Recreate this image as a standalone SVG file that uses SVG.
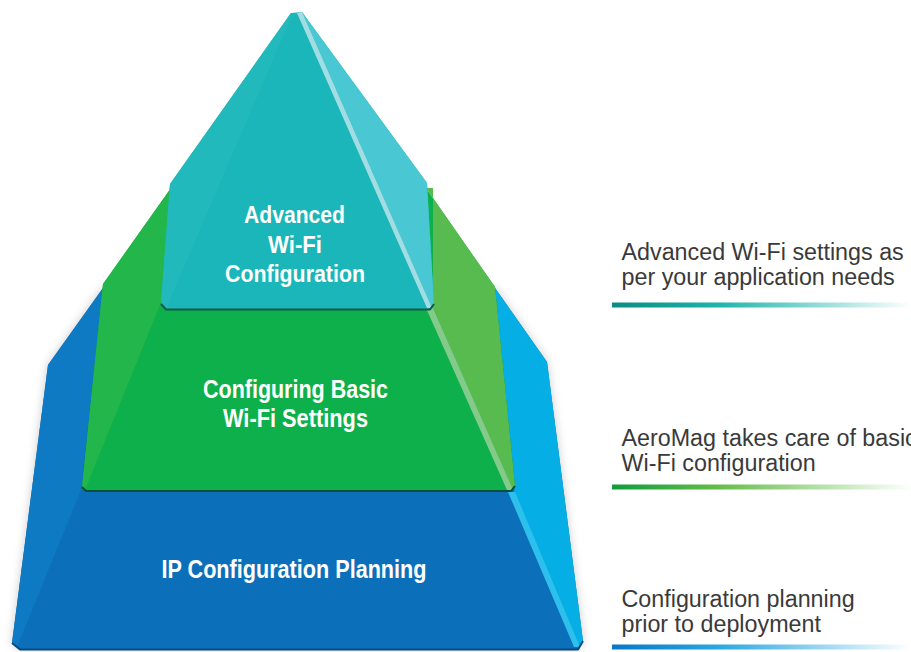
<svg xmlns="http://www.w3.org/2000/svg" width="911" height="652" viewBox="0 0 911 652">
<defs>
<filter id="soft" x="-10%" y="-10%" width="120%" height="120%">
<feGaussianBlur stdDeviation="5"/>
</filter>
<linearGradient id="gTeal" x1="0" y1="0" x2="1" y2="0">
<stop offset="0" stop-color="#0a8c83"/>
<stop offset="0.35" stop-color="#1bb3aa"/>
<stop offset="1" stop-color="#ffffff"/>
</linearGradient>
<linearGradient id="gGreen" x1="0" y1="0" x2="1" y2="0">
<stop offset="0" stop-color="#109c3a"/>
<stop offset="0.35" stop-color="#62bd47"/>
<stop offset="1" stop-color="#ffffff"/>
</linearGradient>
<linearGradient id="gBlue" x1="0" y1="0" x2="1" y2="0">
<stop offset="0" stop-color="#0877c8"/>
<stop offset="0.35" stop-color="#2aa5e2"/>
<stop offset="1" stop-color="#ffffff"/>
</linearGradient>
</defs>
<style>
.lbl{font-family:"Liberation Sans",Arial,sans-serif;font-weight:bold;fill:#ffffff;text-anchor:middle}
.desc{font-family:"Liberation Sans",Arial,sans-serif;font-size:23.3px;fill:#3a3a3a}
.edge{fill:none;stroke-width:2;stroke-linejoin:round}
</style>
<rect width="911" height="652" fill="#ffffff"/>

<path d="M103,288 L495,288 L547,362 L583,641 L578,649 L20,649 L12,643 L48,365 Z" fill="#6a6a6a" opacity="0.35" filter="url(#soft)"/>

<g id="layer-bottom">
<path d="M103,288 L495,288 L547,362 L583,641 L578,649 L20,649 L12,643 L48,365 Z" fill="#0b70b9"/>
<path d="M103,288 L48,365 L12,643 L17,647 L81,490 Z" fill="#0e7ac3"/>
<path d="M495,288 L547,362 L583,641 L579,647 L514,492 L515,486 Z" fill="#05afe5"/>
<path d="M508,492 L515,492 L580,647 L574,647 Z" fill="#2ec0ec"/>
<path class="edge" d="M12,643 L20,649.5 L578,649.5 L583,641" stroke="#084a7e"/>
<text class="lbl" x="294" y="578" font-size="25" textLength="265" lengthAdjust="spacingAndGlyphs">IP Configuration Planning</text>
</g>

<g id="layer-middle">
<path d="M171,188 L426,188 L495,287 L515,486 L511,491 L86,491 L82,487 L103,284 Z" fill="#0db04a"/>
<path d="M171,188 L103,284 L82,487 L85,490 L162,300 L166,250 Z" fill="#22b64b"/>
<path d="M426,188 L495,287 L515,486 L512,490 L433,308 L433,188 Z" fill="#57bb4f"/>
<path d="M426,308 L433,308 L513,490 L507,490 Z" fill="#84cb8b"/>
<path class="edge" d="M82,487 L86,491 L511,491 L515,486" stroke="#0b4f3a"/>
<text class="lbl" x="295.5" y="398" font-size="25" textLength="185" lengthAdjust="spacingAndGlyphs">Configuring Basic</text>
<text class="lbl" x="295.5" y="427" font-size="25" textLength="145" lengthAdjust="spacingAndGlyphs">Wi-Fi Settings</text>
</g>

<g id="layer-top">
<path d="M291,13 L302,12 L427,183 L434,304 L430,309 L166,309 L161,304 L170,184 Z" fill="#1bb6b9"/>
<path d="M291,13 L170,184 L161,304 L166,309 L292,16 Z" fill="#21b9bc"/>
<path d="M302,12 L427,183 L434,304 L432,308 Z" fill="#49c7d2"/>
<path d="M297,13 L302,12 L432,308 L427,308 Z" fill="#a2dde3"/>
<path class="edge" d="M161,304 L166,309.5 L430,309.5 L434,304" stroke="#0a5a45"/>
<text class="lbl" x="294.5" y="223" font-size="24" textLength="101" lengthAdjust="spacingAndGlyphs">Advanced</text>
<text class="lbl" x="295" y="252.5" font-size="24" textLength="54" lengthAdjust="spacingAndGlyphs">Wi-Fi</text>
<text class="lbl" x="295" y="282" font-size="24" textLength="140" lengthAdjust="spacingAndGlyphs">Configuration</text>
</g>

<g id="desc-advanced">
<text class="desc" x="621.5" y="260">Advanced Wi-Fi settings as</text>
<text class="desc" x="621.5" y="284.5">per your application needs</text>
<rect x="612" y="302.5" width="299" height="5" fill="url(#gTeal)"/>
</g>
<g id="desc-basic">
<text class="desc" x="621.5" y="446">AeroMag takes care of basic</text>
<text class="desc" x="621.5" y="470.5">Wi-Fi configuration</text>
<rect x="612" y="484.5" width="299" height="5" fill="url(#gGreen)"/>
</g>
<g id="desc-ip">
<text class="desc" x="621.5" y="607">Configuration planning</text>
<text class="desc" x="621.5" y="631.5">prior to deployment</text>
<rect x="612" y="644.5" width="299" height="5" fill="url(#gBlue)"/>
</g>
<g id="connectors"/>
</svg>
